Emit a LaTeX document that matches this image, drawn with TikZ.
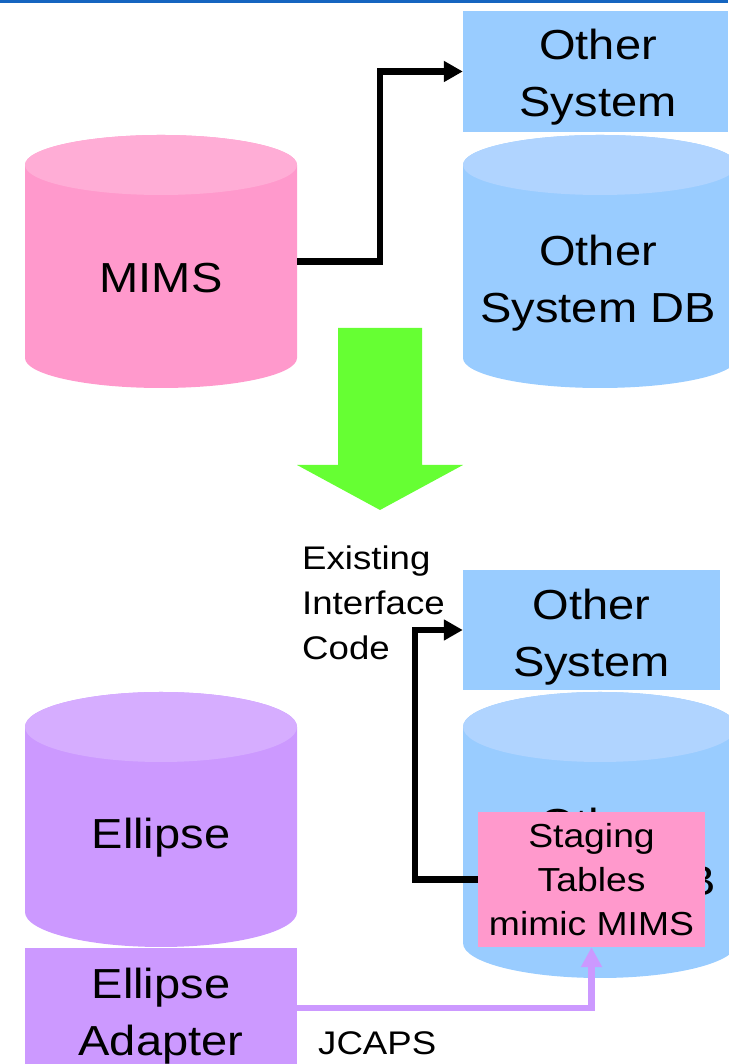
\documentclass[tikz,border=0pt]{standalone}
\usepackage{fontspec}
\setmainfont{Liberation Sans}[FakeStretch=1.12]
\usetikzlibrary{arrows.meta, positioning}

\definecolor{dbpink}{HTML}{FF99CC}
\definecolor{dbpinktop}{HTML}{FFADD6}
\definecolor{dbblue}{HTML}{99CCFF}
\definecolor{dbbluetop}{HTML}{B0D4FF}
\definecolor{dbpurple}{HTML}{CC99FF}
\definecolor{dbpurpletop}{HTML}{D6ADFF}
\definecolor{bigarrow}{HTML}{66FF33}
\definecolor{topline}{HTML}{1565C0}

% database drum: name, centre x, centre y, half width, half height, end radius, colour
\newcommand{\dbcyl}[7]{%
  \node[inner sep=0, minimum width=2*#4, minimum height=2*#5] (#1) at (#2,#3) {};
  \fill[#7] (#2-#4,#3+#5-#6) -- (#2-#4,#3-#5+#6)
    arc[start angle=180, end angle=360, x radius=#4, y radius=#6]
    -- (#2+#4,#3+#5-#6)
    arc[start angle=0, end angle=180, x radius=#4, y radius=#6] -- cycle;
  \fill[#7top] (#2,#3+#5-#6) ellipse[x radius=#4, y radius=#6];
}

\begin{document}
\begin{tikzpicture}[x=1pt, y=1pt,
  bigtxt/.style={font=\fontsize{42}{57}\selectfont, align=center},
  smalltxt/.style={font=\fontsize{32.7}{45}\selectfont, align=left, inner sep=0},
  sysbox/.style={fill=dbblue, inner sep=0, bigtxt},
  link/.style={line width=6.5pt, -{Triangle[length=19pt, width=20pt]}},
  feed/.style={line width=6.5pt, dbpurple, -{Triangle[length=20pt, width=20pt]}}]
  \useasboundingbox (0,0) rectangle (728,1064);
  \fill[topline] (0,1061) rectangle (728,1064);

  % before
  \node[sysbox, minimum width=265, minimum height=121] (sys1) at (595.5,992.5) {};
  \node[bigtxt] (sys1txt) at (598,987) {Other\\System};
  \dbcyl{mimsdb}{161}{802.5}{136}{126.5}{30}{dbpink}
  \node[bigtxt] (mims) at (161,786) {MIMS};
  \dbcyl{otherdb}{600}{802.5}{137}{126.5}{30}{dbblue}
  \node[bigtxt] (othertxt) at (598,781) {Other\\System DB};
  \draw[link] (mimsdb.east) -- ++(83,0) |- (sys1.west);

  % big arrow
  \fill[bigarrow] (338,736) -- (422,736) -- (422,599) -- (463,599)
    -- (380,554) -- (297,599) -- (338,599) -- cycle;

  % after
  \node[smalltxt, anchor=west] (existing) at (302,461) {Existing\\Interface\\Code};
  \node[sysbox, minimum width=257, minimum height=120] (sys2) at (591.5,434) {};
  \node[bigtxt] (sys2txt) at (591.5,427) {Other\\System};
  \dbcyl{otherdb2}{600}{229}{137}{143}{35}{dbblue}
  \node[bigtxt] (othertxt2) at (598,208) {Other\\System DB};
  \node[fill=dbpink, minimum width=227, minimum height=135, inner sep=0,
    font=\fontsize{33.3}{44}\selectfont, align=center] (staging) at (591.5,184.5)
    {Staging\\Tables\\mimic MIMS};
  \draw[link] (staging.west) -- ++(-63,0) |- (sys2.west);

  \dbcyl{ellipsedb}{161}{244.5}{136}{127.5}{35}{dbpurple}
  \node[bigtxt] (ellipse) at (161,226) {Ellipse};
  \node[fill=dbpurple, minimum width=272, minimum height=120, inner sep=0]
    (adapter) at (161,56) {};
  \node[bigtxt] (adaptertxt) at (161,48) {Ellipse\\Adapter};
  \draw[feed] (adapter.east) -| (staging.south);
  \node[smalltxt, anchor=west] (jcaps) at (318,21) {JCAPS};
\end{tikzpicture}
\end{document}
